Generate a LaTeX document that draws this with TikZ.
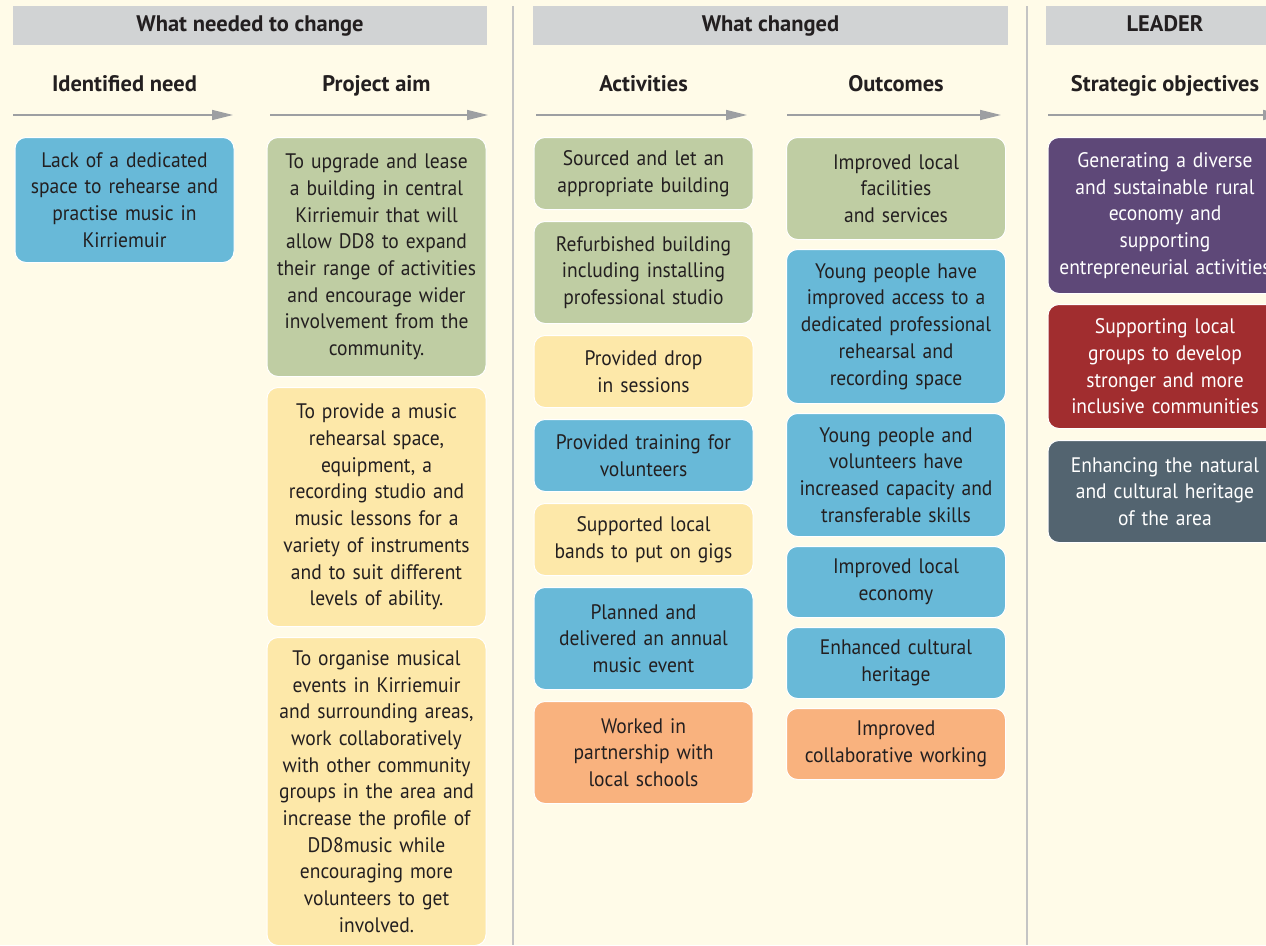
\documentclass[tikz,border=0pt]{standalone}
\usepackage{fontspec}
\setmainfont{PT Sans}[FakeStretch=0.93]
\newfontfamily\headfamily{PT Sans}[FakeStretch=1.0]
\usepackage{tikz}
\usetikzlibrary{positioning}
\usetikzlibrary{arrows.meta}
\definecolor{bgcream}{HTML}{FFFBE8}
\definecolor{bandgray}{HTML}{D1D3D4}
\definecolor{inkdark}{HTML}{231F20}
\definecolor{linegray}{HTML}{9D9FA2}
\definecolor{divgray}{HTML}{C4C4C4}
\definecolor{boxblue}{HTML}{68B9D8}
\definecolor{boxgreen}{HTML}{BFCDA3}
\definecolor{boxyellow}{HTML}{FDE8A9}
\definecolor{boxorange}{HTML}{F9B27E}
\definecolor{boxpurple}{HTML}{5E4878}
\definecolor{boxred}{HTML}{A12D2F}
\definecolor{boxslate}{HTML}{536470}
\newcommand{\boxfont}{\fontsize{21}{26.7}\selectfont}
\newcommand{\headfont}{\headfamily\fontsize{22.5}{26}\selectfont\bfseries}
\tikzstyle{every node}+=[inner sep=0pt]
\tikzstyle{block} = [rectangle, draw=white, line width=1pt, rounded corners=11pt, align=center, inner xsep=8pt, text width=203pt, font=\boxfont, text=inkdark]
\tikzstyle{wideblock} = [block, text width=218pt, text=white]
\tikzstyle{band} = [rectangle, fill=bandgray, minimum height=39pt, text height=15pt, text depth=4pt, font=\headfont, text=inkdark]
\tikzstyle{heading} = [anchor=base, font=\headfont, text=inkdark]
\tikzstyle{line} = [draw=linegray, line width=1.5pt, -{Triangle[length=21pt,width=10pt]}]
\tikzstyle{divider} = [draw=divgray, line width=1.5pt]

\begin{document}
\begin{tikzpicture}[x=1pt, y=-1pt]
  \useasboundingbox [fill=bgcream] (0,0) rectangle (1266,945);
  % Bands and headings
  \node [band, minimum width=474pt] (bandneed) at (250,25.5) {What needed to change};
  \node [band, minimum width=475pt] (bandchg) at (770.5,25.5) {What changed};
  \node [band, minimum width=238pt] (bandleader) at (1165,25.5) {LEADER};
  \node [heading] (hneed) at (124.5,91) {Identified need};
  \node [heading] (haim) at (376.5,91) {Project aim};
  \node [heading] (hact) at (643.5,91) {Activities};
  \node [heading] (hout) at (896,91) {Outcomes};
  \node [heading] (hobj) at (1165,91) {Strategic objectives};
  % Arrows under the headings
  \foreach \i/\s/\e in {1/13/233, 2/270/488, 3/536/747, 4/787/1001, 5/1048/1284} {
    \coordinate (as\i) at (\s,115);
    \coordinate (ae\i) at (\e,115);
    \path [line] (as\i) -- (ae\i);
  }
  % Dividers
  \coordinate (d1t) at (513,6);
  \coordinate (d1b) at (513,945);
  \coordinate (d2t) at (1027,6);
  \coordinate (d2b) at (1027,945);
  \path [divider] (d1t) -- (d1b);
  \path [divider] (d2t) -- (d2b);
  % Identified need
  \node [block, fill=boxblue, minimum height=125pt, anchor=north] (need) at (124.5,137)
    {Lack of a dedicated\\space to rehearse and\\practise music in\\Kirriemuir};
  % Project aim
  \node [block, fill=boxgreen, minimum height=239pt, anchor=north] (aim1) at (376.5,137)
    {To upgrade and lease\\a building in central\\Kirriemuir that will\\allow DD8 to expand\\their range of activities\\and encourage wider\\involvement from the\\community.};
  \node [block, fill=boxyellow, minimum height=239pt, below=10pt of aim1] (aim2)
    {To provide a music\\rehearsal space,\\equipment, a\\recording studio and\\music lessons for a\\variety of instruments\\and to suit different\\levels of ability.};
  \node [block, fill=boxyellow, minimum height=308pt, below=10pt of aim2] (aim3)
    {To organise musical\\events in Kirriemuir\\and surrounding areas,\\work collaboratively\\with other community\\groups in the area and\\increase the profile of\\DD8music while\\encouraging more\\volunteers to get\\involved.};
  % Activities
  \node [block, fill=boxgreen, minimum height=72pt, anchor=north] (act1) at (643.5,137)
    {Sourced and let an\\appropriate building};
  \node [block, fill=boxgreen, minimum height=102pt, below=11pt of act1] (act2)
    {Refurbished building\\including installing\\professional studio};
  \node [block, fill=boxyellow, minimum height=72pt, below=11pt of act2] (act3)
    {Provided drop\\in sessions};
  \node [block, fill=boxblue, minimum height=72pt, below=11pt of act3] (act4)
    {Provided training for\\volunteers};
  \node [block, fill=boxyellow, minimum height=72pt, below=11pt of act4] (act5)
    {Supported local\\bands to put on gigs};
  \node [block, fill=boxblue, minimum height=102pt, below=11pt of act5] (act6)
    {Planned and\\delivered an annual\\music event};
  \node [block, fill=boxorange, minimum height=102pt, below=11pt of act6] (act7)
    {Worked in\\partnership with\\local schools};
  % Outcomes
  \node [block, fill=boxgreen, minimum height=102pt, anchor=north] (out1) at (896,137)
    {Improved local\\facilities\\and services};
  \node [block, fill=boxblue, minimum height=154pt, below=9pt of out1] (out2)
    {Young people have\\improved access to a\\dedicated professional\\rehearsal and\\recording space};
  \node [block, fill=boxblue, minimum height=123pt, below=9pt of out2] (out3)
    {Young people and\\volunteers have\\increased capacity and\\transferable skills};
  \node [block, fill=boxblue, minimum height=71pt, below=9pt of out3] (out4)
    {Improved local\\economy};
  \node [block, fill=boxblue, minimum height=71pt, below=9pt of out4] (out5)
    {Enhanced cultural\\heritage};
  \node [block, fill=boxorange, minimum height=71pt, below=9pt of out5] (out6)
    {Improved\\collaborative working};
  % Strategic objectives
  \node [wideblock, fill=boxpurple, minimum height=156pt, anchor=north] (obj1) at (1165,137)
    {Generating a diverse\\and sustainable rural\\economy and\\supporting\\entrepreneurial activities};
  \node [wideblock, fill=boxred, minimum height=124pt, below=10pt of obj1] (obj2)
    {Supporting local\\groups to develop\\stronger and more\\inclusive communities};
  \node [wideblock, fill=boxslate, minimum height=102pt, below=11pt of obj2] (obj3)
    {Enhancing the natural\\and cultural heritage\\of the area};
\end{tikzpicture}
\end{document}
